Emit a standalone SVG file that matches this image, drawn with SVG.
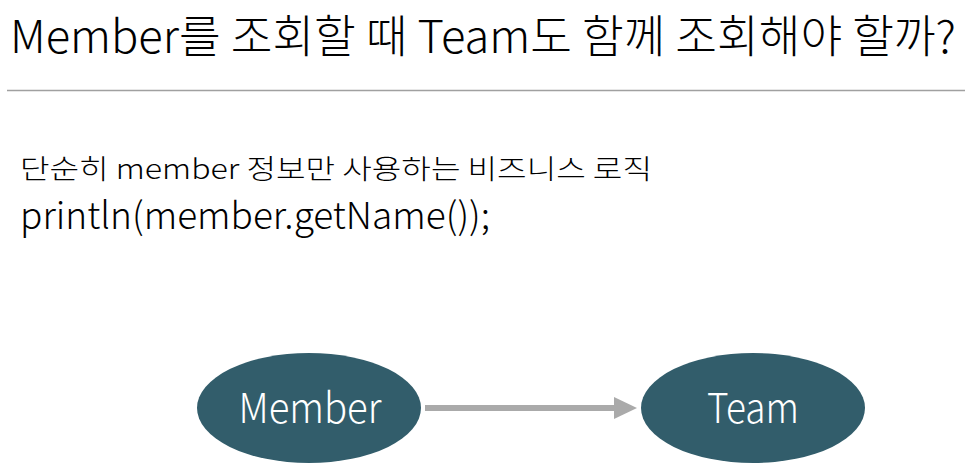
<svg xmlns="http://www.w3.org/2000/svg" width="965" height="465" viewBox="0 0 965 465">
<style>
text{font-family:"Noto Sans CJK KR","Liberation Sans",sans-serif;font-weight:300;}
.title{font-size:45px;fill:#000;}
.sub{font-size:27px;fill:#000;}
.code{font-size:37px;fill:#000;}
.node ellipse{fill:#325d6b;}
.node text{font-size:41px;fill:#fff;text-anchor:middle;}
.conn line{stroke:#aaaaaa;stroke-width:6;}
</style>
<defs>
<marker id="ah" markerWidth="23" markerHeight="22" refX="0" refY="11" orient="auto" markerUnits="userSpaceOnUse"><path d="M0,0 L23,11 L0,22 Z" fill="#aaaaaa"/></marker>
</defs>
<rect width="965" height="465" fill="#fff"/>
<text class="title" x="10" y="53" textLength="946" lengthAdjust="spacingAndGlyphs">Member를 조회할 때 Team도 함께 조회해야 할까?</text>
<line x1="7" y1="90.5" x2="965" y2="90.5" stroke="#a0a0a0" stroke-width="1.5"/>
<text class="sub" x="20" y="178.5" textLength="632" lengthAdjust="spacingAndGlyphs">단순히 member 정보만 사용하는 비즈니스 로직</text>
<text class="code" x="20" y="229" textLength="470" lengthAdjust="spacingAndGlyphs">println(member.getName());</text>
<g class="conn"><line x1="425" y1="408" x2="614" y2="408" marker-end="url(#ah)"/></g>
<g id="member" class="node"><ellipse cx="309" cy="408" rx="112" ry="55"/><text x="310" y="423" textLength="143" lengthAdjust="spacingAndGlyphs">Member</text></g>
<g id="team" class="node"><ellipse cx="753" cy="408" rx="112" ry="55"/><text x="753" y="423" textLength="92" lengthAdjust="spacingAndGlyphs">Team</text></g>
</svg>
